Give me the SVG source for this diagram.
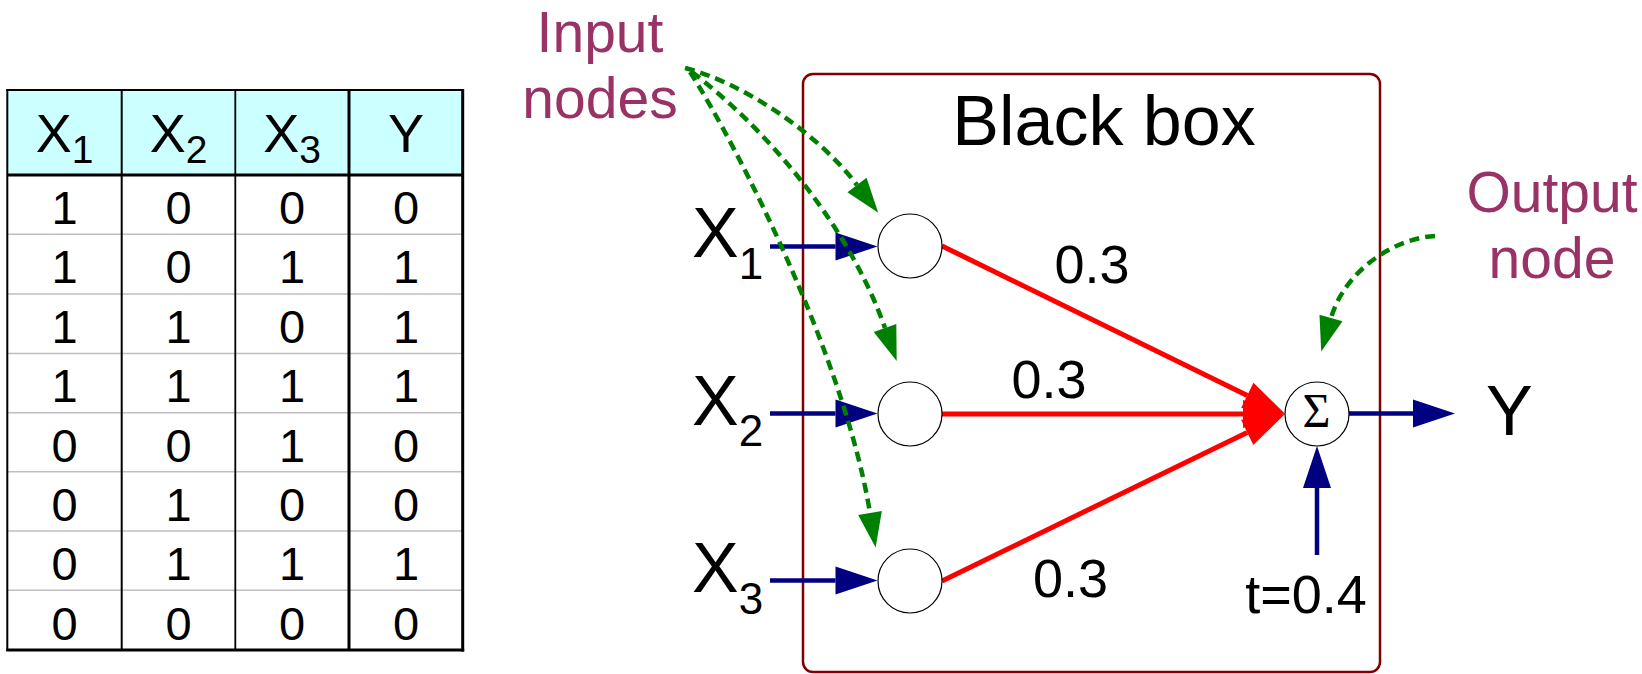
<svg xmlns="http://www.w3.org/2000/svg" width="1642" height="674" viewBox="0 0 1642 674">
<style>
  text { font-family: "Liberation Sans", Arial, sans-serif; fill: #000; }
  .hd { font-size: 54px; text-anchor: middle; }
  .hsub { font-size: 39px; }
  .cell { font-size: 47px; text-anchor: middle; }
  .xl { font-size: 70px; }
  .xsub { font-size: 44px; }
  .w { font-size: 54px; text-anchor: middle; }
  .note { font-size: 57px; fill: #993366; text-anchor: middle; }
  .tl { stroke: #000; fill: none; }
  .grid { stroke: #BFBFBF; stroke-width: 1.5; }
  .node { fill: #fff; stroke: #000; stroke-width: 1.2; }
  .blue { stroke: #000080; stroke-width: 4.5; fill: none; }
  .red { stroke: #FF0000; stroke-width: 5; fill: none; }
  .green { stroke: #008000; stroke-width: 4.5; fill: none; stroke-dasharray: 10 6; }
</style>
<defs>
  <marker id="ab" markerUnits="userSpaceOnUse" markerWidth="44" markerHeight="30" refX="0" refY="15" orient="auto" overflow="visible">
    <path d="M0,1 L42,15 L0,29 z" fill="#000080"/>
  </marker>
  <marker id="ar" markerUnits="userSpaceOnUse" markerWidth="44" markerHeight="30" refX="0" refY="15" orient="auto" overflow="visible">
    <path d="M0,1 L42,15 L0,29 z" fill="#FF0000"/>
  </marker>
  <marker id="ag" markerUnits="userSpaceOnUse" markerWidth="37" markerHeight="26" refX="0" refY="13" orient="auto" overflow="visible">
    <path d="M0,1 L35,13 L0,25 z" fill="#008000"/>
  </marker>
</defs>
<rect width="1642" height="674" fill="#fff"/>

<g id="truth-table">
  <rect x="7.3" y="90" width="455.4" height="85" fill="#CCFFFF"/>
  <g class="grid">
    <line x1="7.3" y1="234.3" x2="462.7" y2="234.3"/>
    <line x1="7.3" y1="294" x2="462.7" y2="294"/>
    <line x1="7.3" y1="353.5" x2="462.7" y2="353.5"/>
    <line x1="7.3" y1="412.7" x2="462.7" y2="412.7"/>
    <line x1="7.3" y1="471.7" x2="462.7" y2="471.7"/>
    <line x1="7.3" y1="531" x2="462.7" y2="531"/>
    <line x1="7.3" y1="590.3" x2="462.7" y2="590.3"/>
  </g>
  <g class="tl">
    <line x1="121.7" y1="90" x2="121.7" y2="650" stroke-width="2"/>
    <line x1="235.3" y1="90" x2="235.3" y2="650" stroke-width="1.8"/>
    <line x1="349" y1="90" x2="349" y2="650" stroke-width="3"/>
    <line x1="7.3" y1="175" x2="462.7" y2="175" stroke-width="3"/>
    <line x1="7.3" y1="89" x2="7.3" y2="651" stroke-width="2"/>
    <line x1="6.3" y1="90" x2="463" y2="90" stroke-width="2"/>
    <line x1="462.7" y1="89" x2="462.7" y2="651.5" stroke-width="3"/>
    <line x1="6.3" y1="650" x2="464.2" y2="650" stroke-width="3"/>
  </g>
  <text class="hd" x="64.5" y="151.7">X<tspan class="hsub" dy="11">1</tspan></text>
  <text class="hd" x="178.5" y="151.7">X<tspan class="hsub" dy="11">2</tspan></text>
  <text class="hd" x="292" y="151.7">X<tspan class="hsub" dy="11">3</tspan></text>
  <text class="hd" x="406" y="151.7">Y</text>

  <text class="cell" x="64.5" y="224">1</text><text class="cell" x="178.5" y="224">0</text><text class="cell" x="292" y="224">0</text><text class="cell" x="406" y="224">0</text>
  <text class="cell" x="64.5" y="283.4">1</text><text class="cell" x="178.5" y="283.4">0</text><text class="cell" x="292" y="283.4">1</text><text class="cell" x="406" y="283.4">1</text>
  <text class="cell" x="64.5" y="342.8">1</text><text class="cell" x="178.5" y="342.8">1</text><text class="cell" x="292" y="342.8">0</text><text class="cell" x="406" y="342.8">1</text>
  <text class="cell" x="64.5" y="402.2">1</text><text class="cell" x="178.5" y="402.2">1</text><text class="cell" x="292" y="402.2">1</text><text class="cell" x="406" y="402.2">1</text>
  <text class="cell" x="64.5" y="461.6">0</text><text class="cell" x="178.5" y="461.6">0</text><text class="cell" x="292" y="461.6">1</text><text class="cell" x="406" y="461.6">0</text>
  <text class="cell" x="64.5" y="521">0</text><text class="cell" x="178.5" y="521">1</text><text class="cell" x="292" y="521">0</text><text class="cell" x="406" y="521">0</text>
  <text class="cell" x="64.5" y="580.4">0</text><text class="cell" x="178.5" y="580.4">1</text><text class="cell" x="292" y="580.4">1</text><text class="cell" x="406" y="580.4">1</text>
  <text class="cell" x="64.5" y="639.8">0</text><text class="cell" x="178.5" y="639.8">0</text><text class="cell" x="292" y="639.8">0</text><text class="cell" x="406" y="639.8">0</text>
</g>

<g id="black-box">
  <rect x="803" y="74" width="577" height="598" rx="10" ry="10" fill="none" stroke="#800000" stroke-width="2.5"/>
  <text x="1104" y="145" font-size="70" text-anchor="middle">Black box</text>
</g>

<g id="connectors">
  <line class="blue" x1="770" y1="246.5" x2="835.5" y2="246.5" marker-end="url(#ab)"/>
  <line class="blue" x1="770" y1="413.5" x2="835.5" y2="413.5" marker-end="url(#ab)"/>
  <line class="blue" x1="770" y1="580.5" x2="835.5" y2="580.5" marker-end="url(#ab)"/>
  <line class="blue" x1="1349" y1="413.5" x2="1413" y2="413.5" marker-end="url(#ab)"/>
  <line class="blue" x1="1317" y1="555" x2="1317" y2="488" marker-end="url(#ab)"/>
  <line class="red" x1="942" y1="246" x2="1247.3" y2="395.4" marker-end="url(#ar)"/>
  <line class="red" x1="942" y1="414" x2="1243" y2="414" marker-end="url(#ar)"/>
  <line class="red" x1="942" y1="581" x2="1247.2" y2="432.4" marker-end="url(#ar)"/>
  <path class="green" d="M685,68 C740,82 815,130 857,185" marker-end="url(#ag)"/>
  <path class="green" d="M692,72 C755,120 845,215 885,328" marker-end="url(#ag)"/>
  <path class="green" d="M690,72 C740,150 845,360 870,513" marker-end="url(#ag)"/>
  <path class="green" d="M1435,236 C1395,238 1345,270 1331,318" marker-end="url(#ag)"/>
</g>

<g id="input-node-1"><circle class="node" cx="910" cy="246" r="32"/></g>
<g id="input-node-2"><circle class="node" cx="910" cy="414" r="32"/></g>
<g id="input-node-3"><circle class="node" cx="910" cy="581" r="32"/></g>
<g id="output-node">
  <circle class="node" cx="1317" cy="414" r="32"/>
  <text x="1316.5" y="427" font-size="48" text-anchor="middle" style="font-family:'Liberation Serif','Times New Roman',serif">Σ</text>
</g>

<g id="labels">
  <text class="xl" x="692" y="256.7">X<tspan class="xsub" dy="22">1</tspan></text>
  <text class="xl" x="692" y="425">X<tspan class="xsub" dy="21">2</tspan></text>
  <text class="xl" x="692" y="591.7">X<tspan class="xsub" dy="22">3</tspan></text>
  <text class="xl" x="1486" y="435">Y</text>
  <text class="w" x="1092" y="283.3">0.3</text>
  <text class="w" x="1049" y="398.3">0.3</text>
  <text class="w" x="1070.5" y="596.7">0.3</text>
  <text class="w" x="1306" y="613.3">t=0.4</text>
  <text class="note" x="600" y="52.3">Input</text>
  <text class="note" x="600" y="118.3">nodes</text>
  <text class="note" x="1552" y="211.7">Output</text>
  <text class="note" x="1552" y="278.3">node</text>
</g>
</svg>
